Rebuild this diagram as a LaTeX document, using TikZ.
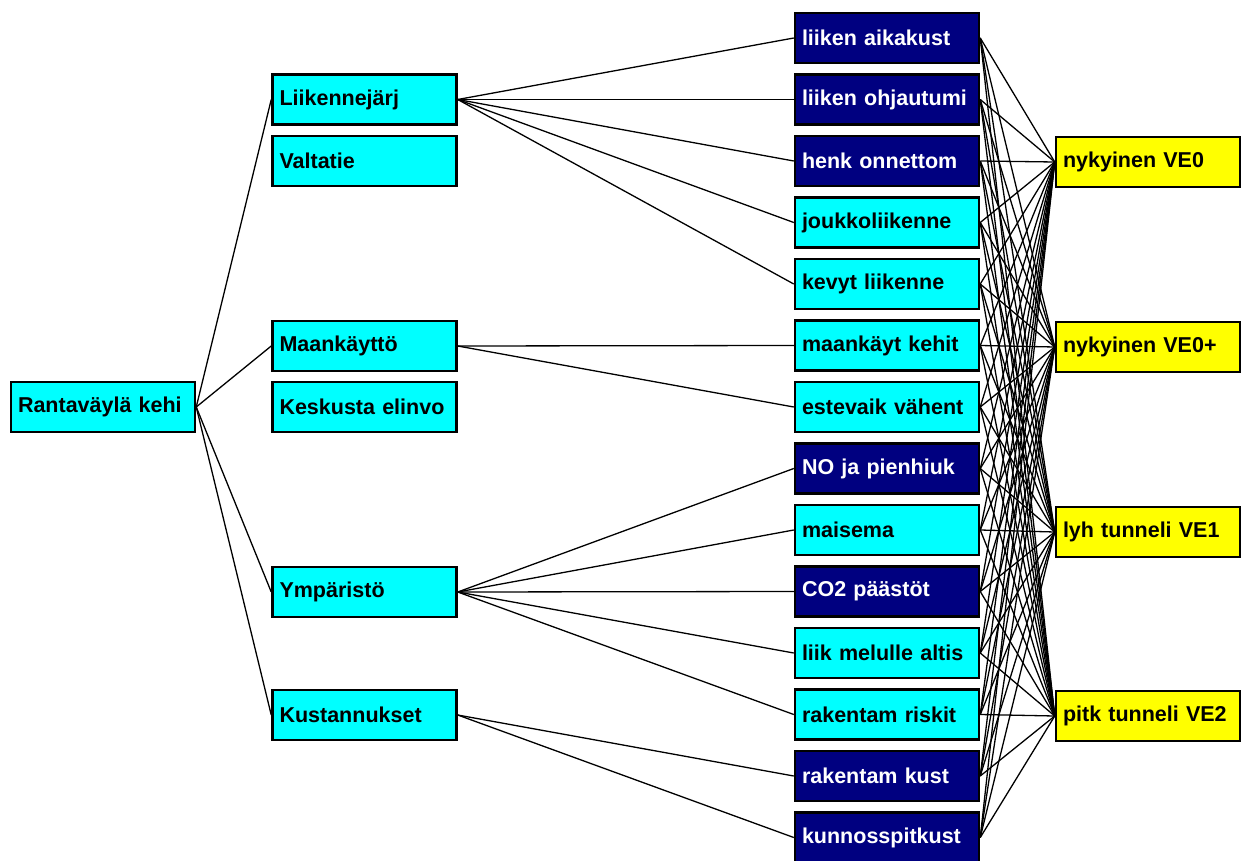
\documentclass[tikz,border=0pt]{standalone}
\usepackage{fontspec}
\setmainfont{Liberation Sans}
\definecolor{cy}{HTML}{00FFFF}
\definecolor{nv}{HTML}{000080}
\definecolor{yl}{HTML}{FFFF00}
\begin{document}
\begin{tikzpicture}[x=1pt,y=-1pt,
  box/.style={draw=black, line width=2.5pt, minimum height=50pt, text width=170pt, align=left, inner xsep=7pt, inner ysep=0pt, font=\fontsize{21.5}{24}\selectfont\bfseries},
  cbox/.style={box, fill=cy},
  nbox/.style={box, fill=nv, text=white},
  ybox/.style={box, fill=yl},
  link/.style={draw=black, line width=1.3pt}]
\useasboundingbox (0,0) rectangle (1250,861);
% root
\node[cbox] (root) at (103,407) {Rantaväylä kehi};
% level 2
\node[cbox] (l0) at (364.5,99.5) {Liikennejärj};
\node[cbox] (l1) at (364.5,161) {Valtatie};
\node[cbox] (l2) at (364.5,346) {Maankäyttö};
\node[cbox] (l3) at (364.5,407) {Keskusta elinvo};
\node[cbox] (l4) at (364.5,592) {Ympäristö};
\node[cbox] (l5) at (364.5,715) {Kustannukset};
% level 3
\node[nbox] (m0) at (887,38) {liiken aikakust};
\node[nbox] (m1) at (887,99.5) {liiken ohjautumi};
\node[nbox] (m2) at (887,161) {henk onnettom};
\node[cbox] (m3) at (887,222.5) {joukkoliikenne};
\node[cbox] (m4) at (887,284) {kevyt liikenne};
\node[cbox] (m5) at (887,345.5) {maankäyt kehit};
\node[cbox] (m6) at (887,407) {estevaik vähent};
\node[nbox] (m7) at (887,468.5) {NO ja pienhiuk};
\node[cbox] (m8) at (887,530) {maisema};
\node[nbox] (m9) at (887,591.5) {CO2 päästöt};
\node[cbox] (m10) at (887,653) {liik melulle altis};
\node[cbox] (m11) at (887,714.5) {rakentam riskit};
\node[nbox] (m12) at (887,776) {rakentam kust};
\node[nbox] (m13) at (887,837.5) {kunnosspitkust};
% alternatives
\node[ybox] (y0) at (1148,162) {nykyinen VE0};
\node[ybox] (y1) at (1148,347) {nykyinen VE0+};
\node[ybox] (y2) at (1148,532) {lyh tunneli VE1};
\node[ybox] (y3) at (1148,716) {pitk tunneli VE2};
% links root -> level 2
\foreach \k in {0,2,4,5} \draw[link] (root.east) -- (l\k.west);
% level 2 -> level 3
\foreach \k in {0,...,4} \draw[link] (l0.east) -- (m\k.west);
\foreach \k in {5,6} \draw[link] (l2.east) -- (m\k.west);
\foreach \k in {7,...,11} \draw[link] (l4.east) -- (m\k.west);
\foreach \k in {12,13} \draw[link] (l5.east) -- (m\k.west);
% level 3 -> alternatives
\foreach \i in {0,...,13} \foreach \j in {0,...,3} \draw[link] (m\i.east) -- (y\j.west);
\end{tikzpicture}
\end{document}
